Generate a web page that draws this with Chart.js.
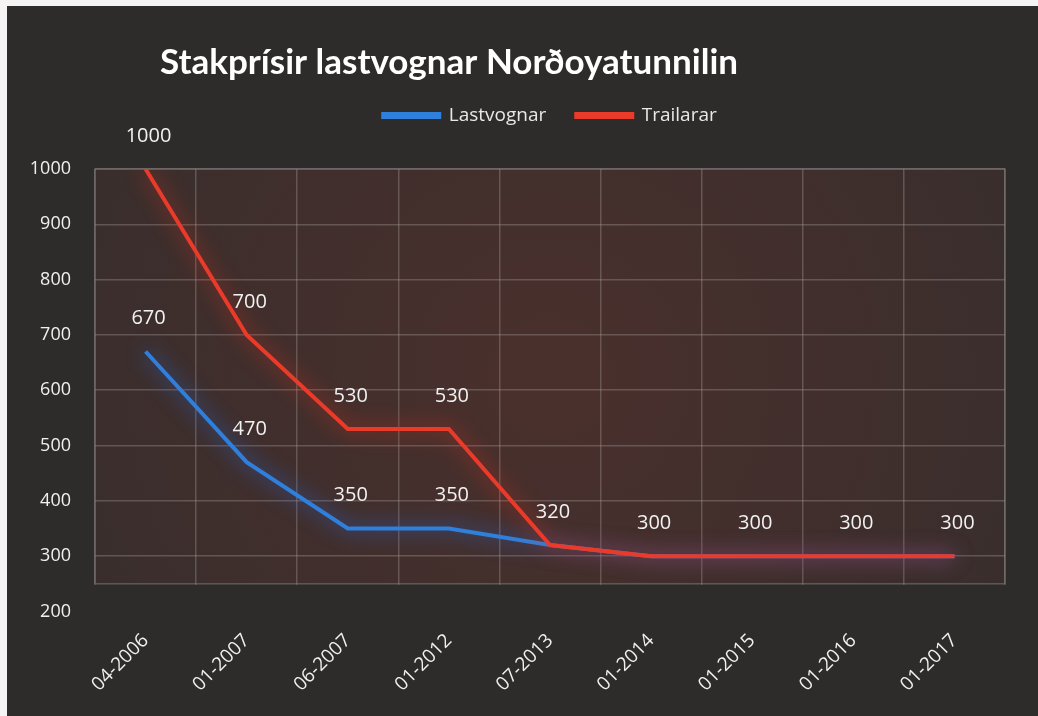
<!DOCTYPE html>
<html>
<head>
<meta charset="utf-8">
<script src="https://cdn.jsdelivr.net/npm/chart.js@4/dist/chart.umd.min.js"></script>
<style>
  html, body { margin: 0; padding: 0; background: #2d2b2a; }
  canvas { display: block; }
</style>
</head>
<body>
<canvas id="chart" width="1038" height="716"></canvas>
<script>
// Dagfesting (x-ás)
const dates = ["04-2006", "01-2007", "06-2007", "01-2012", "07-2013", "01-2014", "01-2015", "01-2016", "01-2017"];
// Prísir
const lastvognar = [670, 470, 350, 350, 320, 300, 300, 300, 300];
const trailarar = [1000, 700, 530, 530, 320, 300, 300, 300, 300];
// Y-ás
const yMin = 200;
const yMax = 1000;
const yStep = 100;

const titleText = "Stakprísir lastvognar Norðoyatunnilin";
const textFont = "'Open Sans', 'DejaVu Sans', sans-serif";
const pageColor = "#2e2c2b";

// Bakgrund: myrkt við hvítum kanti uppi og til vinstru
const backgroundPlugin = {
  id: "background",
  beforeDraw(chart) {
    const { ctx, width, height, chartArea } = chart;
    ctx.save();
    ctx.fillStyle = pageColor;
    ctx.fillRect(0, 0, width, height);
    ctx.fillStyle = "#f4f4f4";
    ctx.fillRect(0, 0, width, 6);
    ctx.fillRect(0, 0, 7, height);

    // rodlig bakgrund í plot-økinum
    const bottom = chart.scales.y.getPixelForValue(250);
    const cx = (chartArea.left + chartArea.right) / 2;
    const cy = (chartArea.top + bottom) / 2;
    const g = ctx.createRadialGradient(cx, cy, 50, cx, cy, 520);
    g.addColorStop(0, "rgba(75, 48, 44, 0.9)");
    g.addColorStop(1, "rgba(58, 46, 45, 0.9)");
    ctx.fillStyle = g;
    ctx.fillRect(chartArea.left, chartArea.top, chartArea.right - chartArea.left, bottom - chartArea.top);
    ctx.restore();
  },
  beforeDatasetsDraw(chart) {
    // fjal gridlinjurnar undir plot-kassanum og tekna kantin
    const { ctx, chartArea } = chart;
    const bottom = chart.scales.y.getPixelForValue(250);
    ctx.save();
    ctx.fillStyle = pageColor;
    ctx.fillRect(chartArea.left - 2, bottom + 1, chartArea.right - chartArea.left + 4, chartArea.bottom - bottom + 2);
    ctx.strokeStyle = "rgba(150, 140, 140, 0.45)";
    ctx.lineWidth = 1.5;
    ctx.strokeRect(chartArea.left, chartArea.top, chartArea.right - chartArea.left, bottom - chartArea.top);
    ctx.restore();
  },
  afterDraw(chart) {
    // heiti
    const { ctx } = chart;
    ctx.save();
    ctx.fillStyle = "#ffffff";
    ctx.font = "bold 35px Lato, 'Open Sans', sans-serif";
    ctx.textAlign = "left";
    ctx.textBaseline = "middle";
    ctx.fillText(titleText, 160, 63);
    ctx.restore();
  },
};

// Ljómi kring linjurnar
const glowPlugin = {
  id: "glow",
  beforeDatasetDraw(chart, args) {
    const ds = chart.data.datasets[args.index];
    chart.ctx.save();
    chart.ctx.shadowColor = ds.glowColor;
    chart.ctx.shadowBlur = 20;
  },
  afterDatasetDraw(chart) {
    chart.ctx.restore();
  },
};

// Virðir omanfyri punktarnar
const valueLabelPlugin = {
  id: "valueLabels",
  afterDatasetsDraw(chart) {
    const { ctx } = chart;
    ctx.save();
    ctx.fillStyle = "#f2f2f2";
    ctx.font = "20px " + textFont;
    ctx.textAlign = "center";
    ctx.textBaseline = "middle";
    chart.data.datasets.forEach((ds, i) => {
      const meta = chart.getDatasetMeta(i);
      meta.data.forEach((pt, j) => {
        // lastvognar-virði verða ikki víst har tey eru tey somu sum trailarar
        if (i === 0 && ds.data[j] === trailarar[j]) return;
        ctx.fillText(String(ds.data[j]), pt.x + 3, pt.y - 33);
      });
    });
    ctx.restore();
  },
};

// Meira pláss undir legend
const legendSpacePlugin = {
  id: "legendSpace",
  beforeInit(chart) {
    const fit = chart.legend.fit;
    chart.legend.fit = function () {
      fit.bind(chart.legend)();
      this.height += 34;
    };
  },
};

const ctx = document.getElementById("chart").getContext("2d");
new Chart(ctx, {
  type: "line",
  data: {
    labels: dates,
    datasets: [
      {
        label: "Lastvognar",
        data: lastvognar,
        borderColor: "#2f7fdc",
        backgroundColor: "#2f7fdc",
        glowColor: "rgba(40, 110, 230, 0.95)",
        borderWidth: 4,
        pointRadius: 0,
        tension: 0,
        order: 2,
      },
      {
        label: "Trailarar",
        data: trailarar,
        borderColor: "#ea3a2a",
        backgroundColor: "#ea3a2a",
        glowColor: "rgba(230, 50, 30, 0.85)",
        borderWidth: 4,
        pointRadius: 0,
        tension: 0,
        order: 1,
      },
    ],
  },
  options: {
    responsive: false,
    animation: false,
    layout: {
      padding: { top: 76, left: 7, right: 33, bottom: 2 },
    },
    plugins: {
      title: { display: false },
      tooltip: { enabled: false },
      legend: {
        position: "top",
        fullSize: false,
        labels: {
          color: "#e8e8e8",
          font: { family: textFont, size: 19 },
          boxWidth: 56,
          boxHeight: 3,
          padding: 30,
          sort: (a, b) => a.datasetIndex - b.datasetIndex,
        },
      },
    },
    scales: {
      x: {
        offset: true,
        grid: {
          offset: true,
          color: "rgba(170, 160, 160, 0.35)",
          lineWidth: 1.5,
          drawTicks: false,
        },
        border: { display: false },
        ticks: {
          color: "#f0f0f0",
          font: { family: textFont, size: 19 },
          minRotation: 45,
          maxRotation: 45,
          padding: 18,
        },
      },
      y: {
        min: yMin,
        max: yMax,
        afterFit(scale) {
          scale.width = 88;
        },
        grid: {
          color: (c) => (c.tick && c.tick.value === yMin ? "rgba(0,0,0,0)" : "rgba(170, 160, 160, 0.35)"),
          lineWidth: 1.5,
          drawTicks: false,
        },
        border: { display: false },
        ticks: {
          stepSize: yStep,
          color: "#f0f0f0",
          font: { family: textFont, size: 18 },
          padding: 24,
          callback: (v) => String(v),
        },
      },
    },
  },
  plugins: [backgroundPlugin, glowPlugin, valueLabelPlugin, legendSpacePlugin],
});
</script>
</body>
</html>
